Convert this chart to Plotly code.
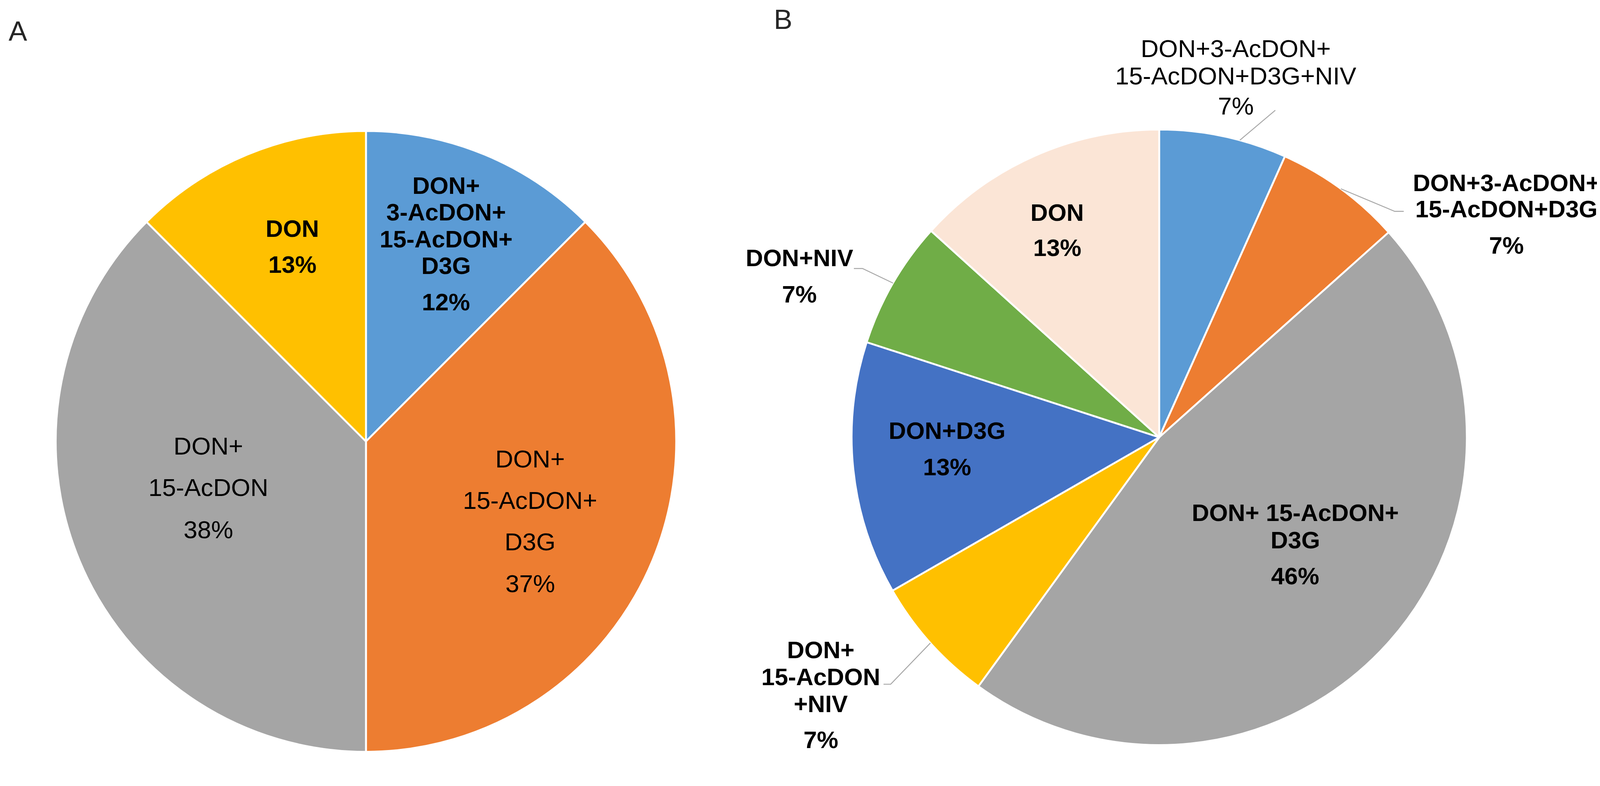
"""Two pie charts (A, B): share of trichothecene combinations in isolates."""

import math

import plotly.graph_objects as go

# reference picture size (all pixel positions below are in these units)
W, H = 4265, 2011
# the page gets photographed about 4% larger than drawn, so draw it smaller
FIG_W, FIG_H = 4101, 1934
K = FIG_W / W

# ---- data -------------------------------------------------------------
categories_a = [
    "DON+3-AcDON+15-AcDON+D3G",
    "DON+15-AcDON+D3G",
    "DON+15-AcDON",
    "DON",
]
share_a = [12.5, 37.5, 37.5, 12.5]
pct_text_a = ["12%", "37%", "38%", "13%"]

categories_b = [
    "DON+3-AcDON+15-AcDON+D3G+NIV",
    "DON+3-AcDON+15-AcDON+D3G",
    "DON+15-AcDON+D3G",
    "DON+15-AcDON+NIV",
    "DON+D3G",
    "DON+NIV",
    "DON",
]
share_b = [6.7, 6.7, 46.6, 6.7, 13.3, 6.7, 13.3]
pct_text_b = ["7%", "7%", "46%", "7%", "13%", "7%", "13%"]

# ---- style ------------------------------------------------------------
colors_a = ["#5B9BD5", "#ED7D31", "#A5A5A5", "#FFC000"]
colors_b = ["#5B9BD5", "#ED7D31", "#A5A5A5", "#FFC000", "#4472C4", "#70AD47", "#FBE5D6"]

# how each label wraps in the picture
wrap_a = [["DON+", "3-AcDON+", "15-AcDON+", "D3G"], ["DON+", "15-AcDON+", "D3G"],
          ["DON+", "15-AcDON"], ["DON"]]
wrap_b = [["DON+3-AcDON+", "15-AcDON+D3G+NIV"], ["DON+3-AcDON+", "15-AcDON+D3G"],
          ["DON+ 15-AcDON+", "D3G"], ["DON+", "15-AcDON", "+NIV"], ["DON+D3G"],
          ["DON+NIV"], ["DON"]]

# label placement in pixels: x, first line y, line gap, gap to percent, bold
place_a = [(1179, 493, 71, 97, True), (1403, 1221, 110, 111, False),
           (547, 1186, 110, 113, False), (770, 607, 0, 96, True)]
place_b = [(3282, 128, 73, 80, False), (4002, 485, 70, 97, True),
           (3440, 1363, 73, 96, True), (2177, 1728, 72, 95, True),
           (2513, 1145, 0, 96, True), (2120, 685, 0, 97, True),
           (2806, 564, 0, 94, True)]

# leader lines of panel B: label-side points, position within the slice
leaders_b = {
    0: ([(3387, 285)], 0.63),
    1: ([(3729, 554), (3705, 554)], 0.5),
    3: ([(2344, 1812), (2363, 1812)], 0.5),
    5: ([(2265, 706), (2288, 706)], 0.5),
}

PIE_A = (966, 1166, 826)   # centre x, centre y, radius (px)
PIE_B = (3078, 1155, 819)

BOLD_FONT = dict(family="Liberation Sans", size=64 * K, color="black", weight="bold")
REG_FONT = dict(family="Liberation Sans", size=66 * K, color="black")
LETTER_FONT = dict(family="Liberation Sans", size=74 * K, color="#262626")


def px(x, y):
    return x / W, 1 - y / H


def domain(pie):
    cx, cy, r = pie
    return dict(x=[(cx - r) / W, (cx + r) / W], y=[1 - (cy + r) / H, 1 - (cy - r) / H])


def pie_trace(cats, share, colors, pie):
    return go.Pie(
        labels=cats,
        values=share,
        sort=False,
        direction="clockwise",
        rotation=0,
        marker=dict(colors=colors, line=dict(color="white", width=5 * K)),
        textinfo="none",
        hoverinfo="label+percent",
        showlegend=False,
        domain=domain(pie),
    )


def text_ann(text, x, y, font, shift=0.12):
    ax, ay = px(x, y)
    return dict(x=ax, y=ay, xref="paper", yref="paper", text=text, showarrow=False,
                xanchor="center", yanchor="middle", yshift=shift * font["size"],
                font=font)


def block_ann(lines, x, y0, gap, font):
    # several lines in one text; line spacing follows the base size (1.3 em),
    # glyphs keep the real size through a span
    if len(lines) == 1:
        return text_ann(lines[0], x, y0, font)
    size = font["size"]
    base = dict(font, size=gap * K / 1.3)
    text = "<br>".join(f"<span style='font-size:{size:.2f}px'>{t}</span>" for t in lines)
    ann = text_ann(text, x, y0 + gap * (len(lines) - 1) / 2, base)
    ann["yshift"] = 0.12 * size
    return ann


def label_annotations(wraps, pcts, places):
    anns = []
    for lines, pct, (x, y0, gap, pgap, bold) in zip(wraps, pcts, places):
        font = BOLD_FONT if bold else REG_FONT
        anns.append(block_ann(lines, x, y0, gap, font))
        y_pct = y0 + gap * (len(lines) - 1) + pgap
        anns.append(text_ann(pct, x, y_pct, font))
    return anns


def leader_shapes(share, pie, leaders):
    cx, cy, r = pie
    total = sum(share)
    shapes = []
    for idx, (pts, frac) in leaders.items():
        before = sum(share[:idx])
        ang = math.radians((before + frac * share[idx]) / total * 360)
        edge = (cx + r * math.sin(ang), cy - r * math.cos(ang))
        path = []
        for i, (x, y) in enumerate(pts + [edge]):
            fx, fy = px(x, y)
            path.append(("M" if i == 0 else "L") + f"{fx:.5f},{fy:.5f}")
        shapes.append(dict(type="path", path=" ".join(path), xref="paper", yref="paper",
                           line=dict(color="#A6A6A6", width=2.5 * K)))
    return shapes


fig = go.Figure()
fig.add_trace(pie_trace(categories_a, share_a, colors_a, PIE_A))
fig.add_trace(pie_trace(categories_b, share_b, colors_b, PIE_B))

annotations = label_annotations(wrap_a, pct_text_a, place_a)
annotations += label_annotations(wrap_b, pct_text_b, place_b)
annotations.append(text_ann("A", 40, 77, LETTER_FONT, shift=0.04))
annotations.append(text_ann("B", 2076, 46, LETTER_FONT, shift=0.04))

fig.update_layout(
    width=FIG_W,
    height=FIG_H,
    margin=dict(l=0, r=0, t=0, b=0),
    paper_bgcolor="white",
    plot_bgcolor="white",
    annotations=annotations,
    shapes=leader_shapes(share_b, PIE_B, leaders_b),
)

fig.write_html("out.html")
